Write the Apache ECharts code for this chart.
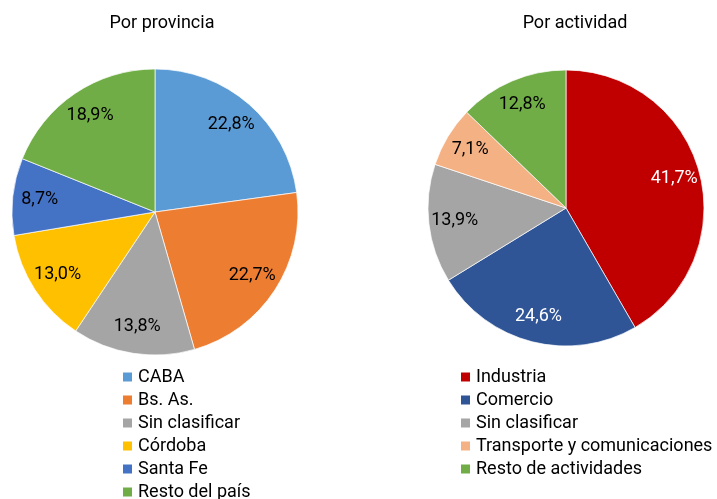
<!DOCTYPE html>
<html>
	<head>
		<meta charset="utf-8">
		<title>Por provincia / Por actividad</title>
		<style type="text/css">
			* {
				margin: 0;
				padding: 0;
			}

			html,
			body {
				width: 100%;
				height: 100%;
				background: #fff;
			}

			#box {
				width: 717px;
				height: 499px;
			}
		</style>
	</head>
	<body>
		<div id="box"></div>
		<script src="https://cdn.jsdelivr.net/npm/echarts@6/dist/echarts.min.js"></script>
		<script type="text/javascript">
			// datos
			var provNames = ['CABA', 'Bs. As.', 'Sin clasificar', 'Córdoba', 'Santa Fe', 'Resto del país']
			var provValues = [22.8, 22.7, 13.8, 13.0, 8.7, 18.9]
			var provColors = ['#5b9bd5', '#ed7d31', '#a5a5a5', '#ffc000', '#4472c4', '#70ad47']

			var actNames = ['Industria', 'Comercio', 'Sin clasificar', 'Transporte y comunicaciones', 'Resto de actividades']
			var actValues = [41.7, 24.6, 13.9, 7.1, 12.8]
			var actColors = ['#c00000', '#2f5597', '#a5a5a5', '#f4b183', '#70ad47']
			var actLabelColors = ['#fff', '#fff', '#000', '#000', '#000']

			var font = 'Roboto, "Noto Sans", sans-serif'

			function fmt(p) {
				return p.value.toFixed(1).replace('.', ',') + '%'
			}

			function mkData(names, values, colors, labelColors, hide) {
				let arr = []
				for (let i = 0; i < names.length; i++) {
					arr.push({
						name: names[i],
						value: values[i],
						itemStyle: { color: hide ? 'rgba(0,0,0,0)' : colors[i] },
						label: { color: labelColors ? labelColors[i] : '#000' }
					})
				}
				return arr
			}

			// pie + transparent ring that only carries the labels (Excel puts them at ~0.8 r)
			function pies(names, values, colors, labelColors, center, r) {
				let main = {
					type: 'pie',
					center: center,
					radius: [0, r],
					startAngle: 90,
					clockwise: true,
					animation: false,
					label: { show: false },
					labelLine: { show: false },
					itemStyle: { borderColor: '#fff', borderWidth: 0.7 },
					data: mkData(names, values, colors, labelColors, false)
				}
				let ring = {
					type: 'pie',
					center: center,
					radius: [r * 0.58, r],
					startAngle: 90,
					clockwise: true,
					animation: false,
					silent: true,
					label: {
						show: true,
						position: 'inside',
						formatter: fmt,
						fontSize: 18,
						fontFamily: font
					},
					labelLine: { show: false },
					itemStyle: { borderWidth: 0 },
					emphasis: { disabled: true },
					data: mkData(names, values, colors, labelColors, true)
				}
				return [main, ring]
			}

			var myChart = echarts.init(document.getElementById('box'))
			var option = {
				backgroundColor: '#fff',
				title: [{
					text: 'Por provincia',
					left: 162,
					top: 14,
					textAlign: 'center',
					padding: 0,
					textStyle: { fontSize: 18, fontWeight: 'normal', color: '#000', fontFamily: font }
				}, {
					text: 'Por actividad',
					left: 575,
					top: 14,
					textAlign: 'center',
					padding: 0,
					textStyle: { fontSize: 18, fontWeight: 'normal', color: '#000', fontFamily: font }
				}],
				legend: [{
					orient: 'vertical',
					left: 121,
					top: 368,
					height: 140,
					padding: 0,
					data: provNames,
					icon: 'rect',
					itemWidth: 11,
					itemHeight: 11,
					itemGap: 5,
					selectedMode: false,
					textStyle: { fontSize: 18, color: '#000', fontFamily: font }
				}, {
					orient: 'vertical',
					left: 459,
					top: 368,
					height: 140,
					padding: 0,
					data: actNames,
					icon: 'rect',
					itemWidth: 11,
					itemHeight: 11,
					itemGap: 5,
					selectedMode: false,
					textStyle: { fontSize: 18, color: '#000', fontFamily: font }
				}],
				series: pies(provNames, provValues, provColors, null, [155, 212], 143)
					.concat(pies(actNames, actValues, actColors, actLabelColors, [566, 208], 138))
			}
			myChart.setOption(option)
		</script>
	</body>
</html>
